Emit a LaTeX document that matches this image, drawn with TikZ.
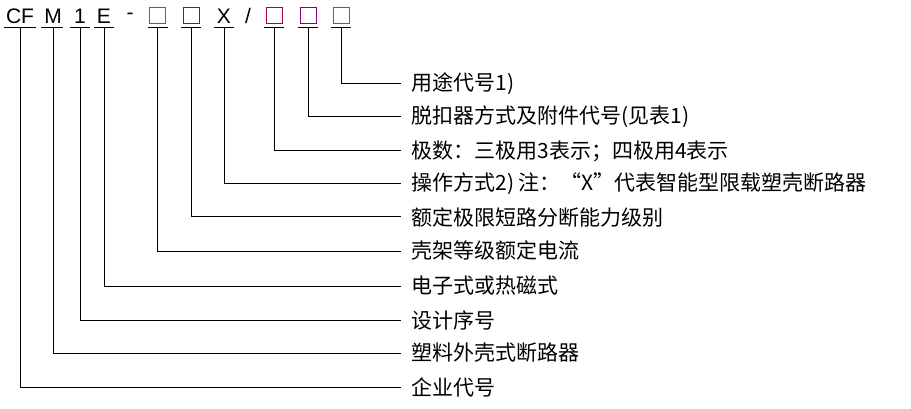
\documentclass[tikz,border=0pt]{standalone}
\usepackage{fontspec}
\setmainfont{Liberation Sans}
\newfontfamily\cjk{Noto Sans CJK SC}
\begin{document}
\begin{tikzpicture}[x=1pt,y=-1pt,line width=1pt,
  lbl/.style={anchor=west,inner sep=0pt,font=\cjk\fontsize{21}{22}\selectfont},
  top/.style={inner sep=0pt,font=\fontsize{21}{22}\selectfont},
  bx/.style={draw=#1,line width=1pt,minimum size=16pt,inner sep=0pt}]
\useasboundingbox (0,0) rectangle (911,409);
\node[top] (cf) at (20,16) {CF};
\node[top] (m) at (53,16) {M};
\node[top] (n1) at (80,16) {1};
\node[top] (e) at (104,16) {E};
\node[top] (d) at (130,16) {-};
\node[bx=gray!70!blue] (b1) at (157,16) {};
\node[bx=violet!80!red] (b2) at (191,16) {};
\node[top] (x) at (224,16) {X};
\node[top] (sl) at (248,16) {/};
\node[bx=violet!70!red] (b3) at (274,16) {};
\node[bx=violet!80!red] (b4) at (308,16) {};
\node[bx=gray!70!blue] (b5) at (341,16) {};
\foreach \a/\b/\n in {4/36/cf,41/63/m,70/90/n1,94/114/e,148/168/b1,181/201/b2,214/234/x,264/284/b3,298/318/b4,331/351/b5}
  \draw (\a,28) -- (\b,28);
\foreach \n/\xx/\yy/\t in {b5/341/84/{用途代号1)},
  b4/308/117/{脱扣器方式及附件代号(见表1)},
  b3/274/151/{极数：三极用3表示；四极用4表示},
  x/224/184/{操作方式2) 注：“X”代表智能型限载塑壳断路器},
  b2/191/217/{额定极限短路分断能力级别},
  b1/157/251/{壳架等级额定电流},
  e/104/286/{电子式或热磁式},
  n1/80/320/{设计序号},
  m/53/353/{塑料外壳式断路器},
  cf/20/387/{企业代号}}{
  \node[lbl] (t\n) at (411,\yy) {\t};
  \draw (\xx,28) |- (401,\yy);
}
\end{tikzpicture}
\end{document}
